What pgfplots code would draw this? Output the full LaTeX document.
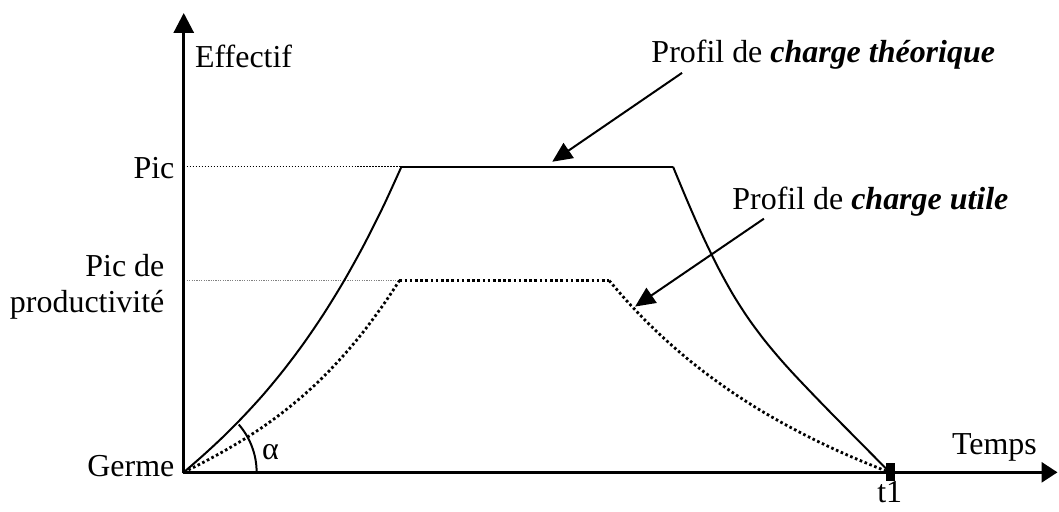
\documentclass[border=0pt]{standalone}
\usepackage{fontspec}
\setmainfont{Liberation Serif}
\usepackage{pgfplots}
\pgfplotsset{compat=1.18}
\usetikzlibrary{arrows.meta}
\begin{document}
\begin{tikzpicture}
\begin{axis}[
  hide axis, clip=false,
  x=0.5pt, y=0.5pt, y dir=reverse,
  xmin=0, xmax=1059, ymin=0, ymax=512,
  font=\fontsize{16}{19}\selectfont,
]
\path (axis cs:0,0) rectangle (axis cs:1059,512);
% axes
\draw[line width=1.5pt, -{Triangle[length=10pt,width=10pt]}] (axis cs:184,474) -- (axis cs:184,13);
\draw[line width=1.5pt, -{Triangle[length=8pt,width=10pt]}] (axis cs:183,473) -- (axis cs:1059,473);
% reference lines
\addplot[black, line width=0.5pt, dash pattern=on 0.6pt off 0.9pt] coordinates {(187,167) (402,167)};
\addplot[gray, line width=0.4pt, dash pattern=on 0.6pt off 0.6pt] coordinates {(187,281) (400,281)};
% theoretical profile
\addplot[black, line width=1pt, smooth, tension=0.5] coordinates {(184,473) (204,455.5) (224,436.9) (244,416.7) (264,394.8) (284,370.6) (304,344.0) (324,314.6) (344,282.1) (364,246.1) (384,206.3) (402,167)};
\addplot[black, line width=1pt] coordinates {(402,167) (674,167)};
\addplot[black, line width=1pt, smooth, tension=0.5] coordinates {(674,167) (689,202.9) (704,236.9) (719,267.7) (734,294.9) (749,318.3) (764,338.7) (779,356.9) (794,373.7) (814,394.8) (834,415.4) (854,435.6) (874,455.8) (889,471)};
% useful profile
\addplot[black, line width=1.4pt, dash pattern=on 1.3pt off 1.3pt, smooth, tension=0.5] coordinates {(184,473) (204,462.8) (224,451.9) (244,440.1) (264,427.0) (284,412.3) (304,395.8) (324,377.2) (344,356.0) (364,332.1) (384,305.0) (400,281)};
\addplot[black, line width=1.4pt, dash pattern=on 1.3pt off 1.3pt] coordinates {(400,281) (610,281)};
\addplot[black, line width=1.4pt, dash pattern=on 1.3pt off 1.3pt, smooth, tension=0.5] coordinates {(610,281) (630,303.9) (650,324.6) (670,343.4) (690,360.6) (710,376.2) (735,394.0) (760,410.0) (785,424.4) (810,437.6) (835,449.6) (860,460.6) (888,472)};
% angle arc
\draw[line width=1pt] (axis cs:257,473) arc[start angle=0, end angle=41, radius=36.5pt];
% t1 marker
\fill (axis cs:887,464) rectangle (axis cs:896,482);
% annotation arrows
\draw[line width=1pt, -{Triangle[length=10pt,width=9pt]}] (axis cs:683,73) -- (axis cs:553,162);
\draw[line width=1pt, -{Triangle[length=10pt,width=9pt]}] (axis cs:765,219) -- (axis cs:636,307);
% labels
\node[anchor=base west, inner sep=0pt] at (axis cs:195,68) {Effectif};
\node[anchor=base west, inner sep=0pt] at (axis cs:652,63) {Profil de \textbf{\textit{charge théorique}}};
\node[anchor=base west, inner sep=0pt] at (axis cs:733,210) {Profil de \textbf{\textit{charge utile}}};
\node[anchor=base east, inner sep=0pt] at (axis cs:175,179) {Pic};
\node[anchor=base east, inner sep=0pt] at (axis cs:165,277) {Pic de};
\node[anchor=base east, inner sep=0pt] at (axis cs:165,313) {productivité};
\node[anchor=base east, inner sep=0pt] at (axis cs:175,477) {Germe};
\node[anchor=base west, inner sep=0pt] at (axis cs:953,455) {Temps};
\node[anchor=base, inner sep=0pt] at (axis cs:891,503) {t1};
\node[anchor=base west, inner sep=0pt] at (axis cs:262,460) {α};
\end{axis}
\end{tikzpicture}
\end{document}
